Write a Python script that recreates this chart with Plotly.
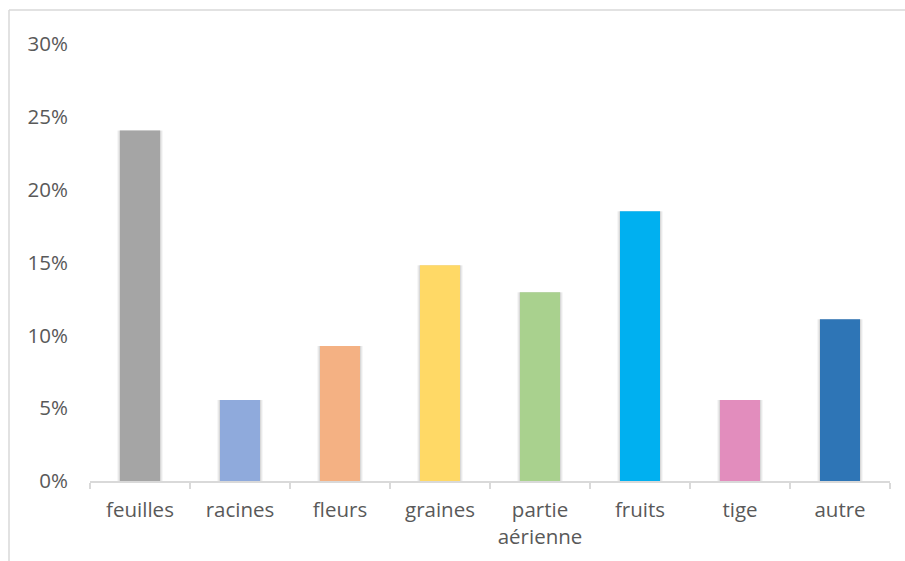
import plotly.graph_objects as go

# Parts of the plant used (share of citations)
categories = ["feuilles", "racines", "fleurs", "graines", "partie<br>aérienne",
              "fruits", "tige", "autre"]
shares = [0.2407, 0.0556, 0.0926, 0.1481, 0.1296, 0.1852, 0.0556, 0.1111]
bar_colors = ["#A5A5A5", "#8FAADC", "#F4B183", "#FFD966", "#A9D18E",
              "#00B0F0", "#E28DBD", "#2E75B6"]

y_ticks = [0, 0.05, 0.10, 0.15, 0.20, 0.25, 0.30]

AXIS_GREY = "#D9D9D9"
TEXT_GREY = "#595959"
FONT = "Open Sans"
FONT_SIZE = 20.5

fig = go.Figure()

# soft drop shadow: a few translucent, slightly wider copies behind each bar
for w, a in [(0.46, 0.035), (0.44, 0.05), (0.42, 0.07)]:
    fig.add_trace(go.Bar(
        x=categories, y=shares, width=w,
        marker=dict(color=f"rgba(0,0,0,{a})", line=dict(width=0)),
        hoverinfo="skip", showlegend=False,
    ))

fig.add_trace(go.Bar(
    x=categories, y=shares, width=0.4,
    marker=dict(color=bar_colors, line=dict(width=0)),
    showlegend=False,
))

fig.update_layout(
    width=905, height=561,
    margin=dict(l=90, r=15, t=44, b=80, autoexpand=False),
    paper_bgcolor="white", plot_bgcolor="white",
    barmode="overlay",
    font=dict(family=FONT, size=FONT_SIZE, color=TEXT_GREY),
    xaxis=dict(
        type="category",
        range=[-0.5, len(categories) - 0.5],
        showline=True, linecolor=AXIS_GREY, linewidth=1.5,
        ticks="outside", tickson="boundaries", ticklen=6,
        tickcolor=AXIS_GREY, tickwidth=1.5,
        showgrid=False, zeroline=False,
        ticklabelstandoff=10,
        tickfont=dict(family=FONT, size=FONT_SIZE, color=TEXT_GREY),
    ),
    yaxis=dict(
        range=[0, 0.30],
        tickvals=y_ticks, tickformat=".0%",
        showline=False, showgrid=False, zeroline=False,
        ticks="", ticklabelstandoff=21,
        tickfont=dict(family=FONT, size=FONT_SIZE, color=TEXT_GREY),
    ),
    shapes=[
        # chart frame (top and left edges)
        dict(type="line", xref="paper", yref="paper",
             x0=-0.10125, x1=1.05, y0=1.0778, y1=1.0778,
             line=dict(color=AXIS_GREY, width=1.5)),
        dict(type="line", xref="paper", yref="paper",
             x0=-0.10125, x1=-0.10125, y0=1.0778, y1=-0.25,
             line=dict(color=AXIS_GREY, width=1.5)),
    ],
)

fig.write_html("out.html")
